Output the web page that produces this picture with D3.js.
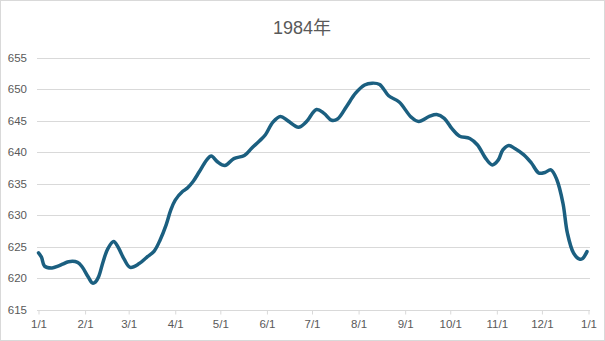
<!DOCTYPE html>
<html><head><meta charset="utf-8">
<script src="https://cdn.jsdelivr.net/npm/d3@7/dist/d3.min.js"></script>
<style>
html,body{margin:0;padding:0;background:#fff;}
svg{display:block;}
text{font-family:"Liberation Sans",Arial,"Noto Sans CJK SC",sans-serif;}
</style></head>
<body>
<svg id="chart" width="605" height="341"></svg>
<script>
const title = "1984年";
const dayOffsets = [0,2,4,9,13,16,20,26,29,33,36,38,40,43,46,50,53,57,61,67,72,77,81,85,88,91,96,99,103,107,112,115,119,124,130,137,142,147,151,156,161,166,173,178,185,190,195,199,205,211,217,222,227,233,240,248,253,260,265,270,275,280,287,292,298,302,306,309,313,317,323,328,333,337,341,345,349,352,356,360,362,365];
const values = [624.0,623.3,621.9,621.6,621.9,622.2,622.6,622.5,621.8,620.2,619.2,619.4,620.2,622.6,624.6,625.8,624.9,623.0,621.7,622.3,623.3,624.3,626.1,628.5,630.8,632.4,633.8,634.3,635.4,636.9,638.8,639.4,638.5,637.9,639.0,639.5,640.7,641.8,642.8,644.8,645.7,645.0,644.0,644.8,646.8,646.2,645.1,645.3,647.3,649.4,650.7,651.0,650.8,649.0,648.0,645.6,644.9,645.7,646.0,645.4,643.8,642.6,642.2,641.2,638.9,638.0,638.8,640.4,641.1,640.6,639.6,638.3,636.7,636.8,637.2,635.6,631.9,627.1,624.0,623.0,623.1,624.2];
const yTicks = [615,620,625,630,635,640,645,650,655];
const xTickLabels = ["1/1","2/1","3/1","4/1","5/1","6/1","7/1","8/1","9/1","10/1","11/1","12/1","1/1"];

const W = 605, H = 341;
const svg = d3.select("#chart");
svg.append("rect").attr("x",0.5).attr("y",0.5).attr("width",W-1).attr("height",H-1)
  .attr("fill","#fff").attr("stroke","#d9d9d9");

const start = new Date(1984,0,1);
const dayDate = d => d3.timeDay.offset(start, d);
const x = d3.scaleTime().domain([start, new Date(1985,0,1)]).range([38.5, 588.5]);
const y = d3.scaleLinear().domain([615,655]).range([309.5, 58]);

svg.append("text").attr("x",302).attr("y",34).attr("text-anchor","middle")
  .attr("font-size",18).attr("fill","#595959").text(title);

// grid
svg.append("g").selectAll("line").data(yTicks.slice(1)).join("line")
  .attr("x1",37).attr("x2",590)
  .attr("y1",d=>Math.round(y(d))+0.5).attr("y2",d=>Math.round(y(d))+0.5)
  .attr("stroke","#d9d9d9").attr("stroke-width",1);

// y labels
svg.append("g").selectAll("text").data(yTicks).join("text")
  .attr("x",27).attr("y",d=>y(d)+4).attr("text-anchor","end")
  .attr("font-size",11.5).attr("fill","#595959").text(d=>d);

// x axis
const monthDates = d3.range(13).map(i=>new Date(1984,i,1));
const xAxis = d3.axisBottom(x).tickValues(monthDates)
  .tickFormat((d,i)=>xTickLabels[i]).tickSize(4).tickSizeOuter(0).tickPadding(5);
const gx = svg.append("g").attr("transform",`translate(0,${Math.round(y(615))+0.5})`).call(xAxis);
gx.select(".domain").attr("stroke","#d9d9d9").attr("d",`M37,0H590`);
gx.selectAll(".tick line").attr("stroke","#d9d9d9");
gx.selectAll(".tick text").attr("fill","#595959").attr("font-size",11.5)
  .attr("font-family",'"Liberation Sans",Arial,sans-serif');

// line
const data = dayOffsets.map((d,i)=>({date:dayDate(d), v:values[i]}));
const line = d3.line().x(d=>x(d.date)).y(d=>y(d.v)).curve(d3.curveCatmullRom.alpha(0.5));
svg.append("path").datum(data).attr("d",line).attr("fill","none")
  .attr("stroke","#1b5f80").attr("stroke-width",3.5)
  .attr("stroke-linejoin","round").attr("stroke-linecap","round");
</script>
</body></html>
